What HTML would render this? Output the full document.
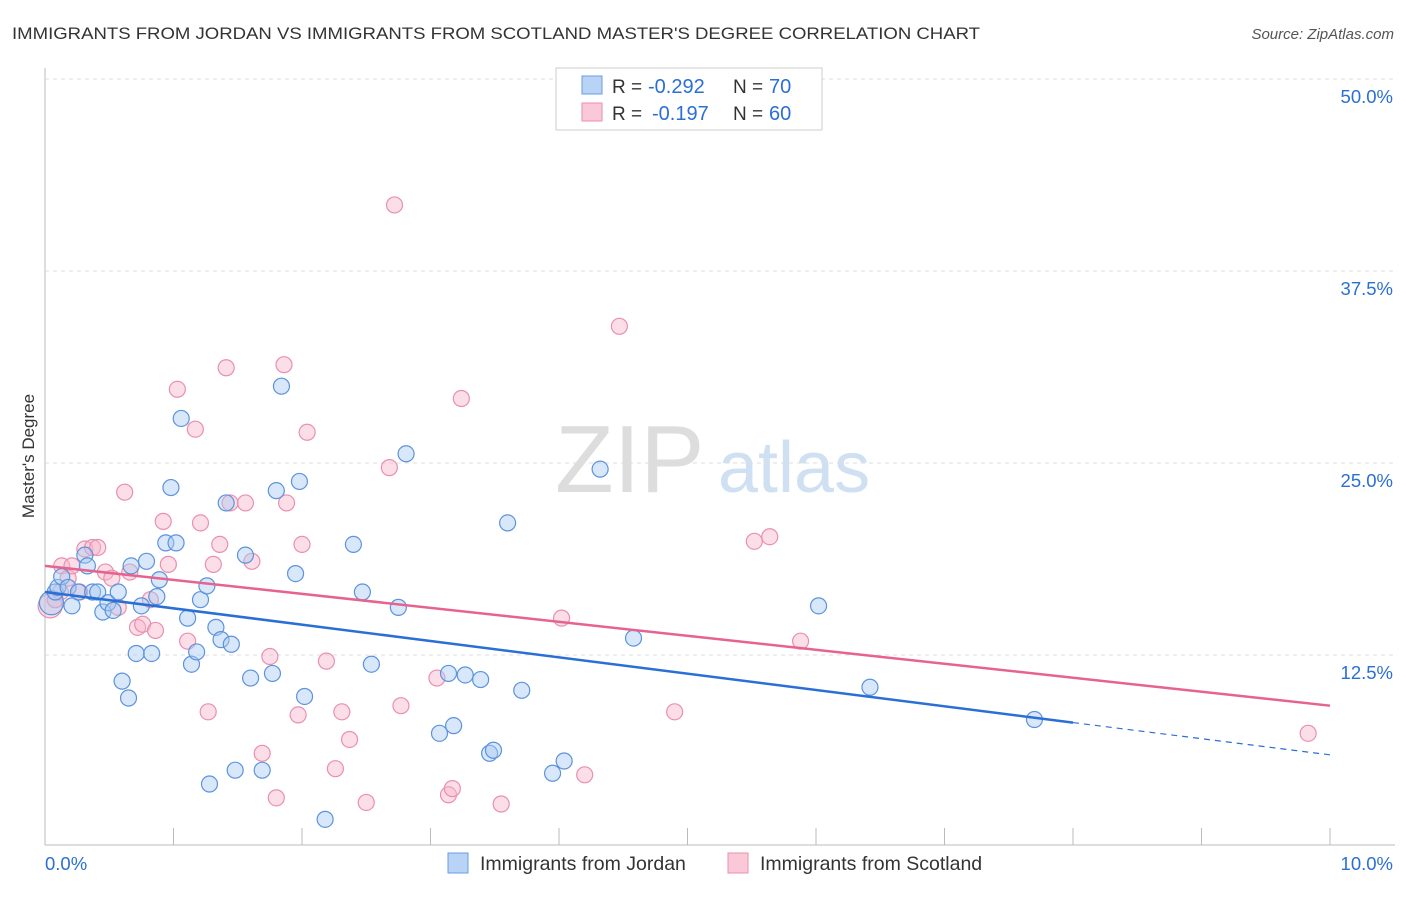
<!DOCTYPE html>
<html><head><meta charset="utf-8"><style>
body{margin:0;background:#fff;font-family:"Liberation Sans",sans-serif;}
svg text{font-family:"Liberation Sans",sans-serif;}
</style></head><body>
<svg id="c" width="1406" height="892" xmlns="http://www.w3.org/2000/svg">
<text x="12" y="39" font-size="17" fill="#333" textLength="968" lengthAdjust="spacingAndGlyphs">IMMIGRANTS FROM JORDAN VS IMMIGRANTS FROM SCOTLAND MASTER'S DEGREE CORRELATION CHART</text>
<text x="1394" y="39" font-size="15" fill="#555" font-style="italic" text-anchor="end">Source: ZipAtlas.com</text>
<text x="34" y="456" font-size="17" fill="#333" text-anchor="middle" transform="rotate(-90 34 456)">Master's Degree</text>
<text x="555" y="492" font-size="96" fill="#ddd" font-family="Liberation Serif">ZIP</text>
<text x="718" y="492" font-size="72" fill="#cfe0f3">atlas</text>
<g id="grid"></g><g id="pts"></g><g id="lines"></g>
<g>
<rect x="556" y="68" width="266" height="62" fill="#fff" stroke="#ccc"/>
<rect x="582" y="76" width="20" height="18" fill="#b8d3f5" stroke="#6a9de0"/>
<rect x="582" y="103" width="20" height="18" fill="#fbc8d8" stroke="#ea8fae"/>
<text x="612" y="93" font-size="19" fill="#333">R =</text>
<text x="648" y="93" font-size="20" fill="#2a6fd6">-0.292</text>
<text x="733" y="93" font-size="19" fill="#333">N =</text>
<text x="769" y="93" font-size="20" fill="#2a6fd6">70</text>
<text x="612" y="120" font-size="19" fill="#333">R =</text>
<text x="652" y="120" font-size="20" fill="#2a6fd6">-0.197</text>
<text x="733" y="120" font-size="19" fill="#333">N =</text>
<text x="769" y="120" font-size="20" fill="#2a6fd6">60</text>
</g>
<g>
<rect x="448" y="853" width="20" height="20" fill="#b8d3f5" stroke="#6a9de0"/>
<text x="480" y="870" font-size="19.5" fill="#333">Immigrants from Jordan</text>
<rect x="728" y="853" width="20" height="20" fill="#fbc8d8" stroke="#ea8fae"/>
<text x="760" y="870" font-size="19.5" fill="#333">Immigrants from Scotland</text>
</g>
</svg>
<script>
const yTicks=[12.5,25,37.5,50];
const xTickLabels=["0.0%","10.0%"];
const jordanX=[0.05,0.08,0.1,0.13,0.18,0.21,0.26,0.31,0.33,0.37,0.41,0.45,0.49,0.53,0.57,0.6,0.65,0.67,0.71,0.75,0.79,0.83,0.87,0.89,0.94,0.98,1.02,1.06,1.11,1.14,1.18,1.21,1.26,1.28,1.33,1.37,1.41,1.45,1.48,1.56,1.6,1.69,1.77,1.8,1.84,1.95,1.98,2.02,2.18,2.4,2.47,2.54,2.75,2.81,3.07,3.14,3.18,3.27,3.39,3.46,3.49,3.6,3.71,3.95,4.04,4.32,4.58,6.02,6.42,7.7];
const jordanY=[15.9,16.6,16.9,17.6,16.9,15.7,16.6,19.0,18.3,16.6,16.6,15.3,15.9,15.4,16.6,10.8,9.7,18.3,12.6,15.7,18.6,12.6,16.3,17.4,19.8,23.4,19.8,27.9,14.9,11.9,12.7,16.1,17.0,4.1,14.3,13.5,22.4,13.2,5.0,19.0,11.0,5.0,11.3,23.2,30.0,17.8,23.8,9.8,1.8,19.7,16.6,11.9,15.6,25.6,7.4,11.3,7.9,11.2,10.9,6.1,6.3,21.1,10.2,4.8,5.6,24.6,13.6,15.7,10.4,8.3];
const scotX=[0.04,0.08,0.12,0.13,0.18,0.21,0.27,0.31,0.37,0.41,0.47,0.52,0.57,0.62,0.66,0.72,0.76,0.82,0.86,0.92,0.96,1.03,1.11,1.17,1.21,1.27,1.31,1.36,1.41,1.44,1.56,1.61,1.69,1.75,1.8,1.86,1.88,1.97,2.0,2.04,2.19,2.26,2.31,2.37,2.5,2.68,2.72,2.77,3.05,3.14,3.17,3.24,3.55,4.02,4.2,4.47,4.9,5.52,5.64,5.88,9.83];
const scotY=[15.7,16.1,16.6,18.3,17.5,18.3,16.6,19.4,19.5,19.5,17.9,17.5,15.6,23.1,17.9,14.3,14.5,16.1,14.1,21.2,18.4,29.8,13.4,27.2,21.1,8.8,18.4,19.7,31.2,22.4,22.4,18.6,6.1,12.4,3.2,31.4,22.4,8.6,19.7,27.0,12.1,5.1,8.8,7.0,2.9,24.7,41.8,9.2,11.0,3.4,3.8,29.2,2.8,14.9,4.7,33.9,8.8,19.9,20.2,13.4,7.4];
const jordanLine=[[0,16.6],[8,8.1],[10,6.0]];
const scotLine=[[0,18.3],[10,9.2]];
const X=v=>45+v*128.5, Y=v=>847-v*15.36;
const NS="http://www.w3.org/2000/svg";
function mk(t,a,p){const e=document.createElementNS(NS,t);for(const k in a)e.setAttribute(k,a[k]);p.appendChild(e);return e;}
const g=document.getElementById('grid');
const ax=mk('line',{x1:45,y1:68,x2:45,y2:845,stroke:'#bbb'},g);


const xa=mk('line',{x1:45,y1:845,x2:1395,y2:845,stroke:'#bbb'},g);


for(let i=1;i<=10;i++){const t=mk('line',{x1:45+i*128.5,y1:828,x2:45+i*128.5,y2:845,stroke:'#bbb'},g);

}
yTicks.forEach(v=>{const l=mk('line',{x1:45,y1:Y(v),x2:1395,y2:Y(v),stroke:'#ddd','stroke-dasharray':'4 4'},g);


const t=mk('text',{x:1393,y:Y(v)+24,'font-size':18.5,fill:'#2a6fd6','text-anchor':'end'},g);t.textContent=v.toFixed(1)+'%';

});
const t0=mk('text',{x:45,y:870,'font-size':18.5,fill:'#2a6fd6'},g);t0.textContent=xTickLabels[0];


const t1=mk('text',{x:1393,y:870,'font-size':18.5,fill:'#2a6fd6','text-anchor':'end'},g);t1.textContent=xTickLabels[1];


const p=document.getElementById('pts');
function dots(xs,ys,fill,stroke,name){xs.forEach((x,i)=>{const c=mk('circle',{cx:X(x),cy:Y(ys[i]),r:i==0?12:8,fill:fill,'fill-opacity':0.45,stroke:stroke,'stroke-width':1.2},p);

});}
dots(scotX,scotY,'#f7b6cb','#ea8fae','scotland-point');
dots(jordanX,jordanY,'#a9c9f2','#5b93dd','jordan-point');
const L=document.getElementById('lines');
const bl=mk('line',{x1:X(jordanLine[0][0]),y1:Y(jordanLine[0][1]),x2:X(jordanLine[1][0]),y2:Y(jordanLine[1][1]),stroke:'#2a6fd6','stroke-width':2.5},L);


const bd=mk('line',{x1:X(jordanLine[1][0]),y1:Y(jordanLine[1][1]),x2:X(jordanLine[2][0]),y2:Y(jordanLine[2][1]),stroke:'#2a6fd6','stroke-width':1.2,'stroke-dasharray':'6 5'},L);


const pl=mk('line',{x1:X(scotLine[0][0]),y1:Y(scotLine[0][1]),x2:X(scotLine[1][0]),y2:Y(scotLine[1][1]),stroke:'#e6628f','stroke-width':2.5},L);


</script>
</body></html>
